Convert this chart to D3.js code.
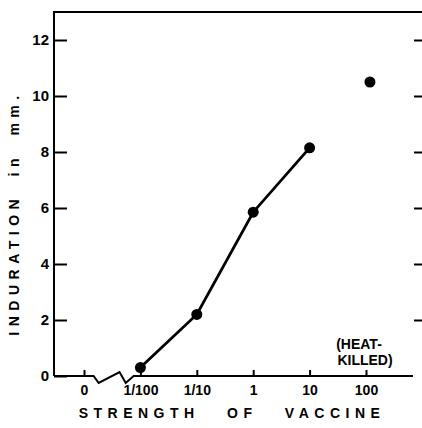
<!DOCTYPE html>
<html>
<head>
<meta charset="utf-8">
<script src="https://cdn.jsdelivr.net/npm/d3@7"></script>
<style>
  body { margin: 0; background: #fff; }
  text { font-family: "Liberation Sans", Arial, sans-serif; font-weight: bold; fill: #000; }
</style>
</head>
<body>
<svg id="chart" width="422" height="428"></svg>
<script>
// strength of vaccine, x positions in log10 units ("0" sits one step left of 1/100)
const strengthLabels = ["0", "1/100", "1/10", "1", "10", "100"];
const strengthExp = [-3, -2, -1, 0, 1, 2];

// induration (mm) for live vaccine
const seriesExp = [-2, -1, 0, 1];
const induration = [0.3, 2.2, 5.85, 8.15];

// heat-killed vaccine, strength 100
const heatKilledExp = [2.07];
const heatKilled = [10.5];

const yTicks = [0, 2, 4, 6, 8, 10, 12];

const svg = d3.select("#chart");

const x = d3.scaleLinear().domain([-3, 2]).range([84, 366]);
const y = d3.scaleLinear().domain([0, 13]).range([376, 12]);
const left = 54, right = 422;

// frame: top and left lines
svg.append("path")
    .attr("d", `M${left},${y(0)}V${y(13)}H${right}`)
    .attr("fill", "none").attr("stroke", "#000").attr("stroke-width", 2);

// bottom axis line with a break between 0 and 1/100
const brk = [[-2.83, 0], [-2.74, 7], [-2.37, -4], [-2.26, 7], [-2.12, 0]];
const base = d3.path();
base.moveTo(left, y(0));
brk.forEach(([e, dy]) => base.lineTo(x(e), y(0) + dy));
base.lineTo(413, y(0));
svg.append("path")
    .attr("d", base.toString())
    .attr("fill", "none").attr("stroke", "#000").attr("stroke-width", 2)
    .attr("stroke-linejoin", "miter");

// left axis (ticks pointing inward)
const yAxis = svg.append("g")
    .attr("transform", `translate(${left},0)`)
    .call(d3.axisLeft(y).tickValues(yTicks).tickSize(-13).tickPadding(5));
yAxis.select(".domain").remove();
yAxis.selectAll(".tick line").attr("stroke-width", 2);
yAxis.selectAll(".tick text").style("font-size", "15px").attr("font-family", null).attr("fill", "#000");

// right-side tick marks only
const yRight = svg.append("g")
    .attr("transform", `translate(414,0)`)
    .call(d3.axisRight(y).tickValues(yTicks.filter(d => d > 0)).tickSize(8).tickFormat(""));
yRight.select(".domain").remove();
yRight.selectAll(".tick line").attr("stroke-width", 2);

// bottom axis ticks (pointing up)
const xAxis = svg.append("g")
    .attr("transform", `translate(0,${y(0)})`)
    .call(d3.axisBottom(x).tickValues(strengthExp)
        .tickFormat((d, i) => strengthLabels[i]).tickSize(-6).tickPadding(9));
xAxis.select(".domain").remove();
xAxis.selectAll(".tick line").attr("stroke-width", 2);
xAxis.selectAll(".tick text").style("font-size", "14px").attr("font-family", null).attr("fill", "#000");

// series line + dots
const pts = seriesExp.map((e, i) => ({ e: e, v: induration[i] }));
svg.append("path")
    .datum(pts)
    .attr("fill", "none")
    .attr("stroke", "#000")
    .attr("stroke-width", 2.8)
    .attr("d", d3.line().x(d => x(d.e)).y(d => y(d.v)));

svg.selectAll(".dot")
    .data(pts)
    .enter().append("circle")
    .attr("class", "dot")
    .attr("cx", d => x(d.e))
    .attr("cy", d => y(d.v))
    .attr("r", 5.5);

svg.selectAll(".hk")
    .data(heatKilledExp.map((e, i) => ({ e: e, v: heatKilled[i] })))
    .enter().append("circle")
    .attr("class", "hk")
    .attr("cx", d => x(d.e))
    .attr("cy", d => y(d.v))
    .attr("r", 5.5);

// heat-killed note
const note = svg.append("text")
    .attr("text-anchor", "middle")
    .style("font-size", "14px");
note.append("tspan").attr("x", x(2) - 7).attr("y", 349).text("(HEAT-");
note.append("tspan").attr("x", x(2) - 1).attr("y", 365).text("KILLED)");

// axis titles
svg.append("text")
    .attr("x", 232).attr("y", 418)
    .attr("text-anchor", "middle")
    .style("font-size", "14px")
    .style("letter-spacing", "5.5px")
    .style("word-spacing", "18px")
    .text("STRENGTH OF VACCINE");

svg.append("text")
    .attr("transform", "translate(19,213) rotate(-90)")
    .attr("text-anchor", "middle")
    .style("font-size", "14px")
    .style("letter-spacing", "5.5px")
    .style("word-spacing", "8px")
    .text("INDURATION in mm.");
</script>
</body>
</html>
